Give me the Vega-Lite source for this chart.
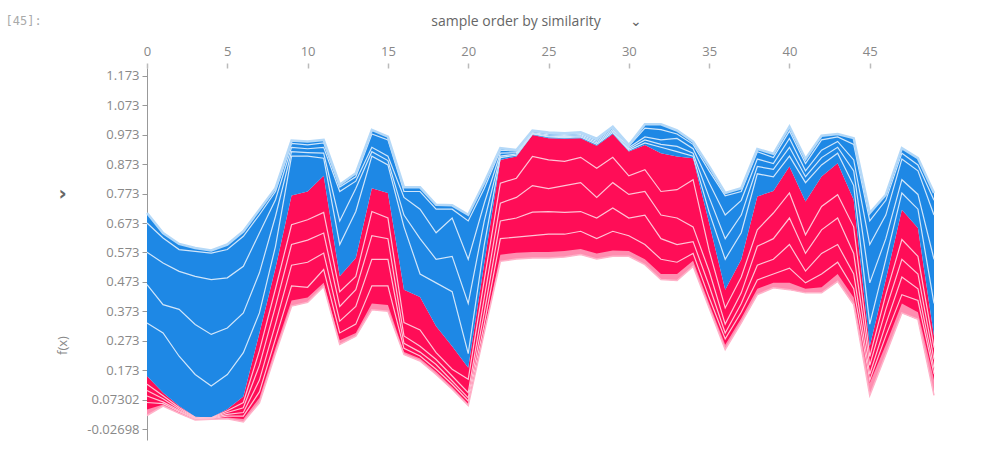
{
  "$schema": "https://vega.github.io/schema/vega-lite/v6.json",
  "autosize": "none",
  "width": 787,
  "height": 372,
  "padding": {"left": 147, "top": 68, "right": 53, "bottom": 14},
  "background": "white",
  "config": {"view": {"stroke": null}},
  "title": {"text": "sample order by similarity\u00a0\u00a0\u00a0\u00a0\u00a0\u00a0\u00a0\u00a0⌄", "anchor": "middle", "dx": -4, "offset": -29, "baseline": "bottom", "font": "Open Sans", "fontSize": 14, "fontWeight": "normal", "color": "#666"},
  "data": {"values": [
    {"i":0,"lo":0.020,"p1":0.040,"ra":0.064,"rb":0.086,"rc":0.105,"rd":0.126,"fx":0.154,"ba":0.334,"bb":0.464,"bc":0.574,"bd":0.673,"hi":0.707},
    {"i":1,"lo":0.052,"p1":0.057,"ra":0.060,"rb":0.066,"rc":0.077,"rd":0.087,"fx":0.097,"ba":0.300,"bb":0.396,"bc":0.537,"bd":0.622,"hi":0.639},
    {"i":2,"lo":0.027,"p1":0.030,"ra":0.033,"rb":0.037,"rc":0.042,"rd":0.047,"fx":0.052,"ba":0.221,"bb":0.380,"bc":0.509,"bd":0.583,"hi":0.602},
    {"i":3,"lo":0.005,"p1":0.007,"ra":0.008,"rb":0.010,"rc":0.012,"rd":0.014,"fx":0.016,"ba":0.159,"bb":0.329,"bc":0.492,"bd":0.577,"hi":0.588},
    {"i":4,"lo":0.007,"p1":0.008,"ra":0.009,"rb":0.010,"rc":0.011,"rd":0.012,"fx":0.013,"ba":0.120,"bb":0.295,"bc":0.481,"bd":0.571,"hi":0.580},
    {"i":5,"lo":0.009,"p1":0.013,"ra":0.018,"rb":0.024,"rc":0.030,"rd":0.036,"fx":0.041,"ba":0.159,"bb":0.317,"bc":0.487,"bd":0.583,"hi":0.600},
    {"i":6,"lo":-0.002,"p1":0.008,"ra":0.018,"rb":0.030,"rc":0.046,"rd":0.064,"fx":0.084,"ba":0.233,"bb":0.368,"bc":0.526,"bd":0.628,"hi":0.645},
    {"i":7,"lo":0.063,"p1":0.080,"ra":0.100,"rb":0.140,"rc":0.190,"rd":0.240,"fx":0.300,"ba":0.368,"bb":0.504,"bc":0.639,"bd":0.701,"hi":0.718},
    {"i":8,"lo":0.230,"p1":0.250,"ra":0.280,"rb":0.330,"rc":0.390,"rd":0.450,"fx":0.520,"ba":0.594,"bb":0.696,"bc":0.752,"bd":0.780,"hi":0.791},
    {"i":9,"lo":0.391,"p1":0.410,"ra":0.460,"rb":0.530,"rc":0.600,"rd":0.667,"fx":0.766,"ba":0.900,"bb":0.915,"bc":0.930,"bd":0.943,"hi":0.953},
    {"i":10,"lo":0.404,"p1":0.420,"ra":0.455,"rb":0.540,"rc":0.615,"rd":0.684,"fx":0.780,"ba":0.900,"bb":0.912,"bc":0.925,"bd":0.938,"hi":0.950},
    {"i":11,"lo":0.458,"p1":0.470,"ra":0.515,"rb":0.571,"rc":0.639,"rd":0.709,"fx":0.833,"ba":0.893,"bb":0.910,"bc":0.930,"bd":0.945,"hi":0.955},
    {"i":12,"lo":0.261,"p1":0.275,"ra":0.300,"rb":0.340,"rc":0.390,"rd":0.440,"fx":0.492,"ba":0.600,"bb":0.680,"bc":0.780,"bd":0.795,"hi":0.803},
    {"i":13,"lo":0.289,"p1":0.300,"ra":0.330,"rb":0.390,"rc":0.447,"rd":0.492,"fx":0.554,"ba":0.712,"bb":0.790,"bc":0.815,"bd":0.830,"hi":0.842},
    {"i":14,"lo":0.379,"p1":0.400,"ra":0.460,"rb":0.550,"rc":0.630,"rd":0.712,"fx":0.791,"ba":0.900,"bb":0.915,"bc":0.930,"bd":0.975,"hi":0.989},
    {"i":15,"lo":0.374,"p1":0.395,"ra":0.460,"rb":0.550,"rc":0.620,"rd":0.690,"fx":0.775,"ba":0.870,"bb":0.885,"bc":0.900,"bd":0.955,"hi":0.966},
    {"i":16,"lo":0.227,"p1":0.235,"ra":0.248,"rb":0.265,"rc":0.290,"rd":0.335,"fx":0.447,"ba":0.660,"bb":0.700,"bc":0.760,"bd":0.780,"hi":0.794},
    {"i":17,"lo":0.205,"p1":0.213,"ra":0.222,"rb":0.235,"rc":0.255,"rd":0.310,"fx":0.422,"ba":0.500,"bb":0.620,"bc":0.720,"bd":0.780,"hi":0.794},
    {"i":18,"lo":0.159,"p1":0.168,"ra":0.177,"rb":0.193,"rc":0.210,"rd":0.233,"fx":0.323,"ba":0.470,"bb":0.550,"bc":0.640,"bd":0.720,"hi":0.735},
    {"i":19,"lo":0.109,"p1":0.117,"ra":0.126,"rb":0.137,"rc":0.154,"rd":0.177,"fx":0.255,"ba":0.440,"bb":0.560,"bc":0.690,"bd":0.720,"hi":0.733},
    {"i":20,"lo":0.054,"p1":0.060,"ra":0.069,"rb":0.080,"rc":0.097,"rd":0.143,"fx":0.182,"ba":0.230,"bb":0.400,"bc":0.550,"bd":0.680,"hi":0.701},
    {"i":21,"lo":0.301,"p1":0.310,"ra":0.330,"rb":0.370,"rc":0.420,"rd":0.480,"fx":0.537,"ba":0.600,"bb":0.680,"bc":0.740,"bd":0.790,"hi":0.810},
    {"i":22,"lo":0.543,"p1":0.565,"ra":0.620,"rb":0.680,"rc":0.740,"rd":0.808,"fx":0.887,"ba":0.895,"bb":0.900,"bc":0.910,"bd":0.920,"hi":0.927},
    {"i":23,"lo":0.551,"p1":0.572,"ra":0.625,"rb":0.690,"rc":0.760,"rd":0.825,"fx":0.899,"ba":0.903,"bb":0.907,"bc":0.912,"bd":0.917,"hi":0.921},
    {"i":24,"lo":0.554,"p1":0.575,"ra":0.630,"rb":0.710,"rc":0.800,"rd":0.899,"fx":0.972,"ba":0.975,"bb":0.977,"bc":0.980,"bd":0.984,"hi":0.987},
    {"i":25,"lo":0.554,"p1":0.575,"ra":0.635,"rb":0.712,"rc":0.790,"rd":0.887,"fx":0.961,"ba":0.965,"bb":0.968,"bc":0.972,"bd":0.976,"hi":0.980},
    {"i":26,"lo":0.558,"p1":0.578,"ra":0.635,"rb":0.709,"rc":0.800,"rd":0.882,"fx":0.959,"ba":0.963,"bb":0.966,"bc":0.970,"bd":0.974,"hi":0.978},
    {"i":27,"lo":0.566,"p1":0.585,"ra":0.645,"rb":0.712,"rc":0.810,"rd":0.896,"fx":0.961,"ba":0.965,"bb":0.969,"bc":0.973,"bd":0.977,"hi":0.981},
    {"i":28,"lo":0.551,"p1":0.570,"ra":0.620,"rb":0.690,"rc":0.760,"rd":0.859,"fx":0.935,"ba":0.940,"bb":0.945,"bc":0.950,"bd":0.955,"hi":0.959},
    {"i":29,"lo":0.560,"p1":0.580,"ra":0.645,"rb":0.724,"rc":0.810,"rd":0.896,"fx":0.975,"ba":0.980,"bb":0.985,"bc":0.990,"bd":0.996,"hi":1.000},
    {"i":30,"lo":0.560,"p1":0.578,"ra":0.630,"rb":0.690,"rc":0.770,"rd":0.833,"fx":0.916,"ba":0.920,"bb":0.924,"bc":0.929,"bd":0.934,"hi":0.938},
    {"i":31,"lo":0.532,"p1":0.550,"ra":0.600,"rb":0.700,"rc":0.780,"rd":0.854,"fx":0.938,"ba":0.945,"bb":0.955,"bc":0.965,"bd":0.995,"hi":1.008},
    {"i":32,"lo":0.481,"p1":0.500,"ra":0.550,"rb":0.620,"rc":0.700,"rd":0.780,"fx":0.910,"ba":0.930,"bb":0.940,"bc":0.955,"bd":0.990,"hi":1.008},
    {"i":33,"lo":0.478,"p1":0.500,"ra":0.540,"rb":0.600,"rc":0.690,"rd":0.786,"fx":0.899,"ba":0.915,"bb":0.933,"bc":0.960,"bd":0.975,"hi":0.987},
    {"i":34,"lo":0.526,"p1":0.545,"ra":0.570,"rb":0.610,"rc":0.660,"rd":0.820,"fx":0.893,"ba":0.900,"bb":0.910,"bc":0.925,"bd":0.940,"hi":0.949},
    {"i":35,"lo":0.385,"p1":0.400,"ra":0.420,"rb":0.460,"rc":0.510,"rd":0.580,"fx":0.673,"ba":0.710,"bb":0.760,"bc":0.810,"bd":0.850,"hi":0.865},
    {"i":36,"lo":0.244,"p1":0.260,"ra":0.280,"rb":0.300,"rc":0.330,"rd":0.385,"fx":0.447,"ba":0.550,"bb":0.620,"bc":0.700,"bd":0.765,"hi":0.775},
    {"i":37,"lo":0.334,"p1":0.350,"ra":0.370,"rb":0.400,"rc":0.436,"rd":0.490,"fx":0.549,"ba":0.640,"bb":0.700,"bc":0.750,"bd":0.780,"hi":0.791},
    {"i":38,"lo":0.430,"p1":0.450,"ra":0.480,"rb":0.530,"rc":0.594,"rd":0.650,"fx":0.763,"ba":0.840,"bb":0.865,"bc":0.890,"bd":0.915,"hi":0.924},
    {"i":39,"lo":0.453,"p1":0.470,"ra":0.500,"rb":0.550,"rc":0.620,"rd":0.707,"fx":0.782,"ba":0.830,"bb":0.855,"bc":0.875,"bd":0.895,"hi":0.908},
    {"i":40,"lo":0.447,"p1":0.470,"ra":0.520,"rb":0.600,"rc":0.690,"rd":0.775,"fx":0.865,"ba":0.900,"bb":0.930,"bc":0.960,"bd":0.985,"hi":1.000},
    {"i":41,"lo":0.436,"p1":0.450,"ra":0.470,"rb":0.510,"rc":0.570,"rd":0.633,"fx":0.746,"ba":0.810,"bb":0.830,"bc":0.850,"bd":0.875,"hi":0.890},
    {"i":42,"lo":0.436,"p1":0.455,"ra":0.500,"rb":0.570,"rc":0.650,"rd":0.729,"fx":0.831,"ba":0.870,"bb":0.895,"bc":0.920,"bd":0.955,"hi":0.969},
    {"i":43,"lo":0.475,"p1":0.500,"ra":0.540,"rb":0.600,"rc":0.690,"rd":0.769,"fx":0.876,"ba":0.910,"bb":0.930,"bc":0.950,"bd":0.965,"hi":0.975},
    {"i":44,"lo":0.396,"p1":0.420,"ra":0.450,"rb":0.500,"rc":0.570,"rd":0.660,"fx":0.752,"ba":0.800,"bb":0.850,"bc":0.887,"bd":0.940,"hi":0.961},
    {"i":45,"lo":0.088,"p1":0.130,"ra":0.140,"rb":0.160,"rc":0.190,"rd":0.220,"fx":0.255,"ba":0.330,"bb":0.470,"bc":0.600,"bd":0.680,"hi":0.707},
    {"i":46,"lo":0.227,"p1":0.260,"ra":0.290,"rb":0.330,"rc":0.380,"rd":0.430,"fx":0.481,"ba":0.550,"bb":0.620,"bc":0.700,"bd":0.750,"hi":0.769},
    {"i":47,"lo":0.368,"p1":0.400,"ra":0.430,"rb":0.490,"rc":0.550,"rd":0.617,"fx":0.718,"ba":0.775,"bb":0.820,"bc":0.890,"bd":0.910,"hi":0.927},
    {"i":48,"lo":0.346,"p1":0.370,"ra":0.410,"rb":0.450,"rc":0.500,"rd":0.560,"fx":0.656,"ba":0.720,"bb":0.770,"bc":0.850,"bd":0.870,"hi":0.893},
    {"i":49,"lo":0.088,"p1":0.140,"ra":0.160,"rb":0.180,"rc":0.210,"rd":0.250,"fx":0.290,"ba":0.400,"bb":0.550,"bc":0.700,"bd":0.750,"hi":0.775}
  ]},
  "encoding": {
    "x": {"field": "i", "type": "quantitative", "scale": {"domain": [0, 49], "nice": false, "zero": false},
      "axis": {"orient": "top", "values": [0,5,10,15,20,25,30,35,40,45], "grid": false, "domain": false, "tickColor": "#bbb", "tickSize": 5, "tickWidth": 1.5, "labelColor": "#888", "labelFont": "Open Sans", "labelFontSize": 13, "labelPadding": 5, "labelFlush": false,
        "title": "[45]:", "titleFont": "DejaVu Sans Mono", "titleFontSize": 12, "titleFontWeight": "normal", "titleColor": "#aaa", "titleX": -142, "titleY": -48, "titleAlign": "left", "titleBaseline": "middle", "titleAngle": 0}}
  },
  "resolve": {"axis": {"y": "independent"}},
  "layer": [
    {"mark": {"type": "area", "color": "#FF0D57", "interpolate": "linear"},
     "encoding": {
       "y": {"field": "lo", "type": "quantitative", "scale": {"domain": [-0.0632, 1.199], "nice": false, "zero": false},
         "axis": {"orient": "left", "values": [1.173,1.073,0.973,0.873,0.773,0.673,0.573,0.473,0.373,0.273,0.173,0.07302,-0.02698],
           "labelExpr": "replace(format(datum.value, '.4~r'), '\u2212', '-')", "grid": false, "domainColor": "#999", "tickColor": "#999", "tickSize": 5, "labelColor": "#888", "labelFont": "Open Sans", "labelFontSize": 13, "labelPadding": 3,
           "title": "f(x)", "titleFont": "Open Sans", "titleFontSize": 13, "titleFontWeight": "normal", "titleColor": "#888", "titleX": -85, "titleY": 277, "titleAngle": 270, "titleAlign": "center", "titleBaseline": "middle"}},
       "y2": {"field": "fx"}}},
    {"mark": {"type": "area", "color": "#FF8DB0", "interpolate": "linear"},
     "encoding": {"y": {"field": "lo", "type": "quantitative", "axis": null}, "y2": {"field": "p1"}}},
    {"mark": {"type": "area", "color": "#1E88E5", "interpolate": "linear"},
     "encoding": {"y": {"field": "fx", "type": "quantitative", "axis": null}, "y2": {"field": "hi"}}},
    {"transform": [{"fold": ["ra", "rb", "rc", "rd"], "as": ["k", "v"]}],
     "mark": {"type": "line", "color": "#FFC3D5", "strokeWidth": 1.2, "interpolate": "linear"},
     "encoding": {"y": {"field": "v", "type": "quantitative", "axis": null}, "detail": {"field": "k"}}},
    {"transform": [{"fold": ["ba", "bb", "bc", "bd"], "as": ["k", "v"]}],
     "mark": {"type": "line", "color": "#D1E6FA", "strokeWidth": 1.2, "interpolate": "linear"},
     "encoding": {"y": {"field": "v", "type": "quantitative", "axis": null}, "detail": {"field": "k"}}},
    {"mark": {"type": "line", "color": "#FFB3C9", "strokeWidth": 1.5, "interpolate": "linear"},
     "encoding": {"y": {"field": "lo", "type": "quantitative", "axis": null}}},
    {"mark": {"type": "line", "color": "#B5D9F8", "strokeWidth": 2.5, "interpolate": "linear"},
     "encoding": {"y": {"field": "hi", "type": "quantitative",
       "axis": {"orient": "right", "domain": false, "ticks": false, "labels": false, "grid": false,
         "title": "›", "titleFont": "DejaVu Sans", "titleFontSize": 20, "titleFontWeight": "bold", "titleColor": "#666", "titleX": -872, "titleY": 125, "titleAngle": 0, "titleAlign": "center", "titleBaseline": "middle"}}}}
  ]
}
